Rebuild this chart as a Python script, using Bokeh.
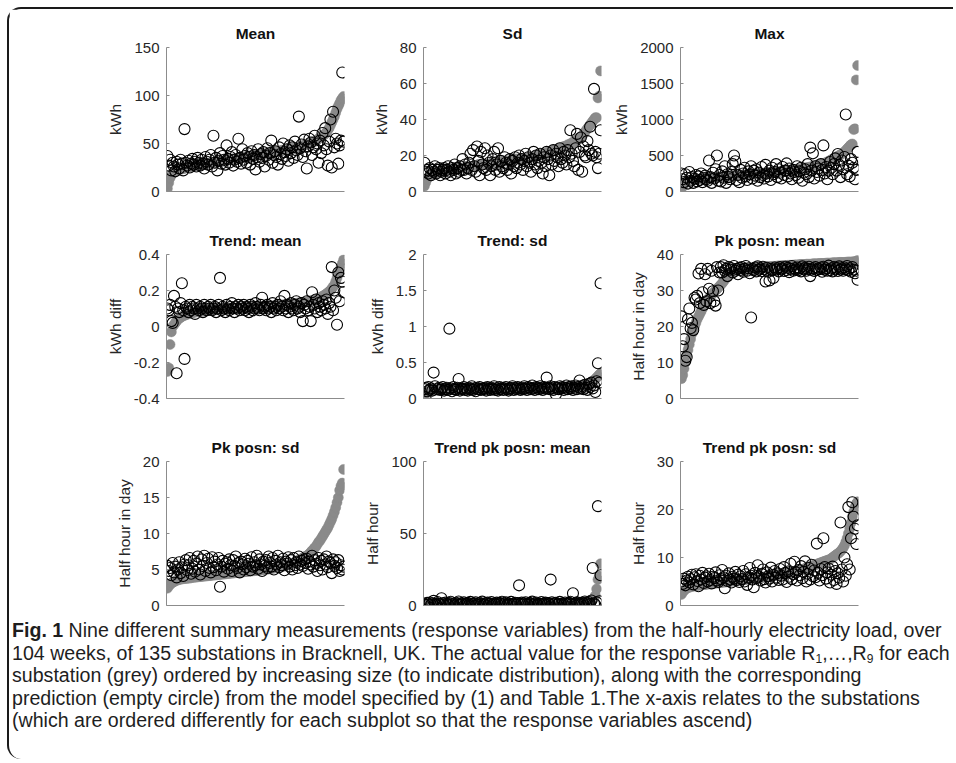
from bokeh.plotting import figure
from bokeh.layouts import row, column
from bokeh.models import Range1d, FixedTicker, CustomJSTickFormatter, Div
from bokeh.embed import file_html
from bokeh.resources import INLINE

# ---------------- data ----------------
titles = ["Mean", "Sd", "Max", "Trend: mean", "Trend: sd", "Pk posn: mean",
          "Pk posn: sd", "Trend pk posn: mean", "Trend pk posn: sd"]
ylabels = ["kWh", "kWh", "kWh", "kWh diff", "kWh diff", "Half hour in day",
           "Half hour in day", "Half hour", "Half hour"]
yticks = [[0, 50, 100, 150], [0, 20, 40, 60, 80], [0, 500, 1000, 1500, 2000],
          [-0.4, -0.2, 0, 0.2, 0.4], [0, 0.5, 1, 1.5, 2], [0, 10, 20, 30, 40],
          [0, 5, 10, 15, 20], [0, 50, 100], [0, 10, 20, 30]]

mean_actual = [3, 9, 14, 17, 19, 20, 21, 22, 22, 23, 23, 24, 24, 24, 25,
               25, 25, 26, 26, 26, 27, 27, 27, 27, 28, 28, 28, 28, 29, 29,
               29, 29, 30, 30, 30, 30, 30, 31, 31, 31, 31, 31, 32, 32, 32,
               32, 33, 33, 33, 33, 34, 34, 34, 34, 35, 35, 35, 35, 36, 36,
               36, 36, 37, 37, 37, 37, 38, 38, 38, 38, 38, 39, 39, 39, 39,
               39, 40, 40, 40, 41, 41, 41, 41, 42, 42, 42, 42, 43, 43, 43,
               43, 44, 44, 44, 44, 45, 45, 45, 46, 46, 46, 47, 47, 48, 48,
               49, 49, 50, 50, 51, 51, 52, 52, 53, 54, 55, 56, 57, 58, 59,
               60, 62, 64, 66, 69, 72, 75, 78, 82, 86, 89, 92, 95, 97, 99]
mean_pred = [37, 27, 33, 22, 30, 26, 21, 31, 28, 24, 33, 29, 22, 65, 30,
             27, 32, 25, 29, 34, 28, 31, 26, 35, 30, 27, 33, 29, 24, 36,
             31, 28, 33, 38, 26, 58, 30, 35, 22, 32, 40, 29, 37, 33, 28,
             48, 34, 30, 36, 41, 27, 33, 38, 31, 55, 35, 29, 44, 33, 37,
             30, 40, 36, 28, 42, 34, 38, 23, 36, 44, 31, 39, 35, 41, 26,
             37, 45, 33, 40, 53, 30, 38, 42, 36, 28, 46, 39, 34, 50, 41,
             37, 44, 32, 48, 40, 46, 35, 52, 43, 38, 78, 45, 49, 36, 54,
             42, 24, 47, 55, 51, 38, 46, 58, 44, 50, 30, 53, 40, 61, 48,
             66, 44, 27, 52, 75, 25, 83, 46, 55, 50, 29, 48, 53, 124, 52]

sd_actual = [3, 5, 7, 8, 9, 9, 10, 10, 10, 10, 11, 11, 11, 11, 11,
             11, 12, 12, 12, 12, 12, 12, 12, 13, 13, 13, 13, 13, 13, 13,
             13, 13, 14, 14, 14, 14, 14, 14, 14, 14, 14, 15, 15, 15, 15,
             15, 15, 15, 15, 15, 15, 16, 16, 16, 16, 16, 16, 16, 16, 17,
             17, 17, 17, 17, 17, 17, 17, 18, 18, 18, 18, 18, 18, 18, 18,
             18, 18, 18, 18, 19, 19, 19, 19, 19, 20, 20, 20, 20, 20, 21,
             21, 21, 21, 21, 22, 22, 22, 22, 23, 23, 23, 23, 24, 24, 24,
             24, 25, 25, 25, 26, 26, 26, 27, 27, 28, 28, 29, 29, 30, 30,
             31, 32, 33, 34, 35, 36, 37, 38, 39, 40, 41, 41, 52, 53, 67]
sd_pred = [16, 11, 12, 10, 13, 9, 12, 11, 14, 10, 12, 13, 9, 11, 12,
           13, 10, 12, 14, 11, 9, 13, 12, 15, 10, 13, 11, 14, 12, 18,
           12, 15, 10, 13, 16, 21, 12, 23, 14, 11, 25, 17, 9, 22, 15,
           13, 24, 12, 20, 16, 9, 14, 18, 22, 12, 15, 24, 11, 17, 14,
           13, 19, 16, 12, 15, 18, 10, 17, 14, 19, 13, 16, 20, 15, 18,
           12, 17, 21, 14, 19, 16, 11, 18, 22, 15, 20, 13, 17, 21, 16,
           10, 19, 14, 22, 18, 9, 20, 15, 23, 17, 21, 19, 14, 24, 18,
           16, 22, 20, 15, 23, 19, 34, 21, 17, 14, 24, 32, 12, 22, 30,
           11, 25, 20, 19, 28, 23, 36, 21, 20, 57, 22, 19, 13, 21, 34]

max_actual = [40, 70, 100, 120, 130, 140, 145, 150, 155, 160, 160, 165, 165, 170, 170,
              175, 175, 180, 180, 180, 185, 185, 190, 190, 190, 195, 195, 195, 200, 200,
              200, 205, 205, 205, 210, 210, 210, 215, 215, 215, 220, 220, 220, 220, 225,
              225, 225, 230, 230, 230, 235, 235, 235, 240, 240, 240, 245, 245, 245, 250,
              250, 250, 255, 255, 255, 260, 260, 260, 265, 265, 265, 270, 270, 270, 275,
              275, 280, 280, 285, 285, 290, 290, 295, 295, 300, 300, 305, 305, 310, 310,
              315, 315, 320, 320, 325, 330, 330, 335, 340, 345, 350, 355, 360, 365, 370,
              375, 380, 385, 390, 395, 400, 410, 420, 430, 440, 450, 460, 470, 480, 490,
              500, 510, 520, 535, 550, 570, 590, 610, 630, 650, 660, 860, 870, 1550, 1750]
max_pred = [250, 170, 130, 240, 190, 110, 270, 150, 200, 120, 180, 230, 140, 210, 160,
            250, 130, 190, 220, 170, 150, 430, 200, 120, 260, 180, 310, 500, 150, 230,
            140, 280, 190, 350, 120, 240, 200, 170, 270, 380, 500, 420, 160, 230, 130,
            300, 190, 250, 330, 210, 160, 280, 240, 350, 180, 290, 220, 310, 150, 260,
            200, 340, 230, 180, 370, 250, 210, 290, 160, 330, 240, 270, 380, 200, 310,
            260, 180, 340, 230, 290, 390, 210, 320, 250, 170, 300, 270, 230, 350, 190,
            280, 330, 150, 260, 310, 240, 380, 200, 610, 290, 530, 180, 350, 270, 320,
            220, 380, 300, 640, 250, 340, 170, 290, 410, 330, 240, 380, 460, 290, 520,
            370, 200, 430, 310, 480, 1070, 240, 360, 210, 450, 400, 330, 170, 300, 550]

trend_mean_actual = [-0.25, -0.23, -0.10, -0.03, 0.00, 0.01, 0.02, 0.03, 0.04, 0.045, 0.05, 0.055, 0.06, 0.062, 0.065,
                     0.068, 0.07, 0.072, 0.074, 0.076, 0.078, 0.08, 0.081, 0.082, 0.083, 0.084, 0.085, 0.086, 0.087, 0.088,
                     0.089, 0.09, 0.09, 0.091, 0.092, 0.092, 0.093, 0.093, 0.094, 0.094, 0.095, 0.095, 0.096, 0.096, 0.097,
                     0.097, 0.098, 0.098, 0.099, 0.099, 0.1, 0.1, 0.1, 0.101, 0.101, 0.102, 0.102, 0.103, 0.103, 0.104,
                     0.104, 0.105, 0.105, 0.106, 0.106, 0.107, 0.107, 0.108, 0.108, 0.109, 0.109, 0.11, 0.11, 0.111, 0.111,
                     0.112, 0.112, 0.113, 0.113, 0.114, 0.114, 0.115, 0.115, 0.116, 0.117, 0.117, 0.118, 0.119, 0.12, 0.12,
                     0.121, 0.122, 0.123, 0.124, 0.125, 0.126, 0.127, 0.128, 0.129, 0.13, 0.131, 0.132, 0.133, 0.134, 0.135,
                     0.136, 0.137, 0.138, 0.14, 0.142, 0.144, 0.146, 0.148, 0.15, 0.153, 0.156, 0.16, 0.164, 0.168, 0.172,
                     0.177, 0.182, 0.188, 0.194, 0.2, 0.21, 0.22, 0.23, 0.25, 0.27, 0.29, 0.31, 0.33, 0.35, 0.37]
trend_mean_pred = [0.10, 0.09, 0.12, 0.03, 0.02, 0.17, 0.11, -0.26, 0.10, 0.08, 0.13, 0.24, 0.09, -0.18, 0.11,
                   0.10, 0.08, 0.12, 0.09, 0.11, 0.10, 0.07, 0.12, 0.10, 0.09, 0.11, 0.10, 0.08, 0.12, 0.10,
                   0.09, 0.11, 0.10, 0.12, 0.09, 0.10, 0.11, 0.08, 0.10, 0.12, 0.27, 0.09, 0.11, 0.10, 0.08,
                   0.12, 0.10, 0.09, 0.11, 0.13, 0.10, 0.08, 0.11, 0.10, 0.12, 0.09, 0.11, 0.10, 0.12, 0.09,
                   0.11, 0.10, 0.08, 0.12, 0.11, 0.09, 0.10, 0.13, 0.11, 0.10, 0.09, 0.12, 0.16, 0.10, 0.11,
                   0.09, 0.12, 0.10, 0.11, 0.08, 0.13, 0.10, 0.11, 0.09, 0.12, 0.10, 0.14, 0.11, 0.09, 0.17,
                   0.10, 0.12, 0.08, 0.11, 0.13, 0.10, 0.09, 0.12, 0.14, 0.10, 0.11, 0.08, 0.13, 0.03, 0.12,
                   0.10, 0.14, 0.09, 0.11, 0.03, 0.19, 0.12, 0.10, 0.15, 0.08, 0.13, 0.11, 0.09, 0.14, 0.12,
                   0.10, 0.15, 0.07, 0.13, 0.11, 0.33, 0.09, 0.20, 0.16, 0.01, 0.30, 0.14, 0.27, 0.25, 0.19]

trend_sd_actual = [0.05, 0.07, 0.08, 0.09, 0.10, 0.10, 0.11, 0.11, 0.11, 0.12, 0.12, 0.12, 0.12, 0.12, 0.12,
                   0.12, 0.12, 0.12, 0.12, 0.13, 0.13, 0.13, 0.13, 0.13, 0.13, 0.13, 0.13, 0.13, 0.13, 0.13,
                   0.13, 0.13, 0.13, 0.13, 0.13, 0.13, 0.13, 0.13, 0.13, 0.13, 0.13, 0.13, 0.13, 0.13, 0.14,
                   0.14, 0.14, 0.14, 0.14, 0.14, 0.14, 0.14, 0.14, 0.14, 0.14, 0.14, 0.14, 0.14, 0.14, 0.14,
                   0.14, 0.14, 0.14, 0.14, 0.14, 0.14, 0.14, 0.14, 0.14, 0.14, 0.14, 0.14, 0.14, 0.14, 0.14,
                   0.14, 0.14, 0.14, 0.14, 0.14, 0.15, 0.15, 0.15, 0.15, 0.15, 0.15, 0.15, 0.15, 0.15, 0.15,
                   0.15, 0.15, 0.15, 0.15, 0.15, 0.15, 0.15, 0.15, 0.15, 0.15, 0.15, 0.15, 0.15, 0.15, 0.15,
                   0.15, 0.15, 0.15, 0.15, 0.16, 0.16, 0.16, 0.16, 0.16, 0.17, 0.17, 0.17, 0.17, 0.18, 0.18,
                   0.18, 0.19, 0.19, 0.20, 0.20, 0.21, 0.22, 0.23, 0.24, 0.25, 0.27, 0.29, 0.31, 0.33, 0.35]
trend_sd_pred = [0.13, 0.15, 0.10, 0.16, 0.12, 0.14, 0.11, 0.36, 0.17, 0.03, 0.13, 0.15, 0.12, 0.14, 0.16,
                 0.11, 0.13, 0.15, 0.12, 0.97, 0.14, 0.10, 0.16, 0.13, 0.12, 0.15, 0.27, 0.11, 0.14, 0.13,
                 0.16, 0.12, 0.14, 0.11, 0.15, 0.13, 0.17, 0.12, 0.14, 0.10, 0.15, 0.13, 0.16, 0.12, 0.14,
                 0.13, 0.15, 0.11, 0.16, 0.14, 0.12, 0.15, 0.13, 0.17, 0.12, 0.14, 0.11, 0.16, 0.13, 0.15,
                 0.12, 0.14, 0.16, 0.13, 0.11, 0.15, 0.14, 0.17, 0.12, 0.15, 0.13, 0.16, 0.14, 0.12, 0.15,
                 0.13, 0.17, 0.14, 0.12, 0.16, 0.15, 0.13, 0.18, 0.14, 0.12, 0.16, 0.15, 0.13, 0.17, 0.14,
                 0.12, 0.16, 0.14, 0.29, 0.15, 0.13, 0.17, 0.14, 0.12, 0.16, 0.06, 0.15, 0.13, 0.17, 0.14,
                 0.16, 0.12, 0.15, 0.18, 0.13, 0.16, 0.14, 0.17, 0.12, 0.15, 0.18, 0.13, 0.16, 0.25, 0.14,
                 0.17, 0.13, 0.19, 0.15, 0.12, 0.20, 0.16, 0.22, 0.14, 0.18, 0.09, 0.24, 0.49, 0.22, 1.60]

pk_mean_actual = [5.5, 6.5, 8.3, 10, 12, 13.5, 15, 16.5, 18, 19, 20, 21, 22, 22.8, 23.5,
                  24.2, 25, 25.6, 26.2, 26.8, 27.3, 27.8, 28.3, 28.8, 29.2, 29.6, 30, 30.4, 30.8, 31.2,
                  31.6, 32, 32.5, 33, 33.5, 34, 34.5, 35, 35.3, 35.5, 35.6, 35.7, 35.8, 35.8, 35.9,
                  35.9, 36, 36, 36, 36.1, 36.1, 36.1, 36.2, 36.2, 36.2, 36.3, 36.3, 36.3, 36.4, 36.4,
                  36.4, 36.5, 36.5, 36.5, 36.5, 36.6, 36.6, 36.6, 36.6, 36.7, 36.7, 36.7, 36.7, 36.8, 36.8,
                  36.8, 36.8, 36.9, 36.9, 36.9, 36.9, 37, 37, 37, 37, 37, 37.1, 37.1, 37.1, 37.1,
                  37.2, 37.2, 37.2, 37.2, 37.2, 37.3, 37.3, 37.3, 37.3, 37.3, 37.4, 37.4, 37.4, 37.4, 37.4,
                  37.5, 37.5, 37.5, 37.5, 37.5, 37.6, 37.6, 37.6, 37.6, 37.6, 37.7, 37.7, 37.7, 37.7, 37.7,
                  37.8, 37.8, 37.8, 37.8, 37.8, 37.8, 37.9, 37.9, 37.9, 37.9, 37.9, 38, 38, 38.1, 38.3]
pk_mean_pred = [22.8, 14.5, 16.5, 10.5, 11.5, 22, 25, 19.5, 21, 19, 28, 27.5, 28.5, 34.7, 26.5,
                36, 29.5, 26, 34.5, 27, 36, 30.5, 26.5, 35.5, 29.8, 27, 25.8, 36.5, 30, 35,
                36.5, 35, 37, 35.5, 36, 34, 36.5, 35.8, 36.2, 35, 36.8, 35.5, 36, 34.5, 36.3,
                35.7, 36.5, 35.2, 36, 36.8, 35.5, 36.2, 34.8, 22.5, 36, 35.6, 36.4, 35.3, 36.7, 35.8,
                36.1, 35.4, 36.6, 35.9, 32.5, 36.3, 35.2, 32.8, 36, 35.6, 33.5, 36.4, 35.8, 36.2, 35.3,
                36.5, 35.9, 36.1, 35.4, 36.6, 35.7, 36.3, 35.1, 36, 36.8, 35.5, 36.2, 35.8, 36.4, 35.6,
                36.1, 35.3, 36.7, 35.9, 36.3, 35.5, 36, 36.6, 34, 35.8, 36.2, 35.4, 36.5, 35.7, 36.1,
                35.9, 36.4, 35.2, 36.6, 35.8, 36.2, 35.5, 36.9, 35.6, 36.1, 35.3, 36.5, 35.9, 36.3, 35.4,
                36.7, 35.8, 36.2, 35.5, 36.4, 35.9, 36.8, 35.6, 36.1, 35.2, 36.5, 35.8, 34.8, 35.5, 33]

pk_sd_actual = [2.4, 2.7, 2.9, 3.1, 3.2, 3.3, 3.4, 3.5, 3.55, 3.6, 3.65, 3.7, 3.72, 3.74, 3.76,
                3.78, 3.8, 3.82, 3.85, 3.9, 3.92, 3.94, 3.96, 3.98, 4, 4.02, 4.04, 4.06, 4.08, 4.1,
                4.12, 4.14, 4.16, 4.18, 4.2, 4.22, 4.24, 4.26, 4.28, 4.3, 4.32, 4.34, 4.36, 4.38, 4.4,
                4.42, 4.44, 4.46, 4.48, 4.5, 4.52, 4.54, 4.56, 4.58, 4.6, 4.62, 4.64, 4.66, 4.68, 4.7,
                4.72, 4.74, 4.76, 4.78, 4.8, 4.82, 4.84, 4.86, 4.88, 4.9, 4.92, 4.94, 4.96, 4.98, 5,
                5.02, 5.05, 5.08, 5.1, 5.13, 5.16, 5.2, 5.23, 5.26, 5.3, 5.34, 5.38, 5.42, 5.46, 5.5,
                5.55, 5.6, 5.65, 5.7, 5.75, 5.8, 5.9, 6, 6.1, 6.2, 6.3, 6.4, 6.5, 6.6, 6.7,
                6.8, 6.9, 7, 7.2, 7.4, 7.6, 7.8, 8, 8.2, 8.5, 8.8, 9, 9.3, 9.6, 9.9,
                10.2, 10.5, 10.8, 11.2, 11.6, 12, 12.5, 13, 13.6, 14.3, 15, 16, 16.6, 17, 18.9]
pk_sd_pred = [5.5, 4.8, 5.2, 4.2, 5.9, 4.6, 5.4, 3.9, 5.0, 6.0, 4.5, 5.3, 4.1, 5.7, 6.3,
              4.9, 5.6, 6.6, 4.4, 5.1, 6.2, 4.7, 5.8, 6.8, 5.0, 4.3, 6.4, 5.5, 6.9, 4.8,
              5.9, 6.5, 5.2, 4.6, 6.7, 5.3, 6.1, 4.9, 5.7, 6.6, 2.6, 5.4, 6.2, 4.7, 5.8,
              6.0, 5.1, 6.4, 5.6, 4.8, 6.3, 5.5, 6.8, 5.2, 5.9, 4.6, 6.1, 5.7, 5.0, 6.5,
              5.3, 6.2, 5.8, 4.9, 6.7, 5.4, 6.0, 5.6, 6.9, 5.1, 6.4, 5.7, 4.8, 6.1, 5.5,
              6.3, 5.2, 6.8, 5.9, 5.4, 6.6, 5.0, 6.2, 5.7, 6.9, 5.3, 6.0, 5.6, 6.5, 4.9,
              6.1, 5.8, 6.7, 5.4, 6.3, 5.0, 6.6, 5.6, 6.0, 5.2, 6.8, 5.7, 6.2, 5.5, 6.4,
              5.9, 6.5, 5.1, 6.1, 5.7, 6.9, 5.4, 6.3, 5.8, 4.8, 6.6, 5.6, 6.2, 5.0, 6.4,
              5.7, 6.8, 5.3, 6.1, 5.9, 4.5, 6.4, 5.5, 6.0, 5.2, 6.3, 4.8, 5.6, 5.0, 5.4]

tpk_mean_actual = [0.1, 0.2, 0.3, 0.3, 0.4, 0.4, 0.5, 0.5, 0.5, 0.6, 0.6, 0.6, 0.6, 0.7, 0.7,
                   0.7, 0.7, 0.7, 0.8, 0.8, 0.8, 0.8, 0.8, 0.8, 0.9, 0.9, 0.9, 0.9, 0.9, 0.9,
                   0.9, 1.0, 1.0, 1.0, 1.0, 1.0, 1.0, 1.0, 1.0, 1.0, 1.1, 1.1, 1.1, 1.1, 1.1,
                   1.1, 1.1, 1.1, 1.1, 1.1, 1.2, 1.2, 1.2, 1.2, 1.2, 1.2, 1.2, 1.2, 1.2, 1.2,
                   1.3, 1.3, 1.3, 1.3, 1.3, 1.3, 1.3, 1.3, 1.3, 1.3, 1.3, 1.3, 1.3, 1.3, 1.3,
                   1.3, 1.3, 1.3, 1.3, 1.3, 1.4, 1.4, 1.4, 1.4, 1.4, 1.4, 1.4, 1.4, 1.4, 1.4,
                   1.4, 1.4, 1.4, 1.4, 1.4, 1.5, 1.5, 1.5, 1.5, 1.5, 1.5, 1.5, 1.5, 1.5, 1.5,
                   1.5, 1.5, 1.6, 1.6, 1.6, 1.6, 1.7, 1.7, 1.7, 1.8, 1.8, 1.9, 1.9, 2.0, 2.1,
                   2.2, 2.3, 2.4, 2.6, 2.8, 3.0, 3.3, 3.7, 4.2, 5.0, 7.0, 11.5, 18.0, 20.5, 29.0]
tpk_mean_pred = [1.2, 0.4, 1.8, 0.9, 2.1, 0.6, 1.5, 3.2, 1.0, 0.3, 2.4, 1.3, 0.7, 5.0, 1.6,
                 0.8, 2.0, 1.1, 0.5, 1.7, 2.6, 0.9, 1.4, 0.2, 1.9, 1.2, 2.8, 0.6, 1.5, 1.0,
                 2.2, 0.7, 1.3, 1.8, 0.4, 2.5, 1.1, 0.8, 1.6, 2.3, 0.5, 1.4, 1.9, 0.9, 2.7,
                 1.2, 0.6, 1.7, 2.1, 0.8, 1.3, 2.4, 0.5, 1.5, 1.0, 2.0, 0.7, 1.8, 1.1, 2.6,
                 0.9, 1.4, 2.2, 0.6, 1.6, 1.0, 2.5, 0.8, 1.3, 1.9, 0.4, 1.7, 14.0, 1.1, 2.0,
                 0.7, 1.5, 2.3, 1.0, 0.5, 1.8, 1.2, 2.7, 0.8, 1.4, 2.1, 0.6, 1.6, 1.1, 2.4,
                 0.9, 1.3, 2.0, 0.5, 1.7, 1.0, 18.0, 2.2, 0.8, 1.4, 1.9, 0.6, 1.2, 2.5, 1.0,
                 1.6, 0.7, 2.1, 1.3, 0.9, 1.8, 2.6, 1.1, 8.5, 0.6, 1.5, 2.3, 1.0, 1.7, 0.8,
                 2.0, 1.2, 2.8, 0.7, 1.6, 2.4, 1.1, 3.5, 26.0, 1.4, 0.5, 2.2, 69.0, 3.0, 21.0]

tpk_sd_actual = [2.3, 2.8, 3.1, 3.4, 3.6, 3.7, 3.8, 3.9, 4.0, 4.0, 4.1, 4.1, 4.2, 4.2, 4.3,
                 4.3, 4.3, 4.4, 4.4, 4.4, 4.5, 4.5, 4.5, 4.6, 4.6, 4.6, 4.7, 4.7, 4.7, 4.8,
                 4.8, 4.8, 4.9, 4.9, 4.9, 5.0, 5.0, 5.0, 5.1, 5.1, 5.1, 5.2, 5.2, 5.2, 5.3,
                 5.3, 5.3, 5.4, 5.4, 5.4, 5.5, 5.5, 5.5, 5.6, 5.6, 5.6, 5.7, 5.7, 5.7, 5.8,
                 5.8, 5.8, 5.9, 5.9, 6.0, 6.0, 6.0, 6.1, 6.1, 6.2, 6.2, 6.3, 6.3, 6.4, 6.4,
                 6.5, 6.5, 6.6, 6.6, 6.7, 6.7, 6.8, 6.8, 6.9, 7.0, 7.0, 7.1, 7.2, 7.2, 7.3,
                 7.4, 7.4, 7.5, 7.6, 7.7, 7.8, 7.9, 8.0, 8.1, 8.2, 8.3, 8.4, 8.5, 8.6, 8.7,
                 8.8, 8.9, 9.0, 9.1, 9.2, 9.3, 9.4, 9.5, 9.6, 9.8, 10.0, 10.2, 10.4, 10.6, 10.8,
                 11.0, 11.3, 11.6, 12.0, 12.5, 13.2, 14.0, 15.0, 16.0, 17.2, 18.5, 19.5, 20.5, 21.2, 21.6]
tpk_sd_pred = [5.0, 4.5, 5.6, 4.2, 5.2, 6.0, 4.8, 5.5, 6.4, 4.4, 5.9, 6.5, 5.1, 4.0, 6.2,
               5.4, 6.8, 4.7, 5.8, 6.1, 5.0, 6.6, 5.3, 4.6, 6.0, 5.7, 6.9, 5.2, 4.9, 6.3,
               5.5, 7.4, 5.9, 3.6, 6.2, 5.1, 6.7, 5.4, 4.8, 6.0, 5.6, 7.0, 5.3, 6.4, 4.9,
               6.1, 5.5, 7.2, 5.0, 6.5, 4.3, 5.8, 7.8, 6.2, 5.4, 3.8, 6.8, 5.7, 8.4, 6.0,
               5.2, 6.6, 7.5, 5.5, 4.8, 6.9, 6.1, 5.6, 7.9, 5.0, 6.4, 7.2, 5.8, 6.7, 5.3,
               7.6, 6.2, 5.4, 8.0, 6.8, 4.9, 7.1, 6.0, 8.7, 5.5, 6.5, 9.1, 6.9, 5.2, 7.4,
               6.3, 8.2, 5.7, 7.0, 9.2, 5.0, 6.6, 7.8, 5.4, 8.5, 6.1, 7.3, 5.9, 12.9, 6.8,
               5.2, 7.6, 6.3, 14.0, 8.0, 5.6, 6.9, 7.7, 4.8, 6.4, 8.1, 5.3, 7.2, 4.5, 6.7,
               5.8, 17.3, 7.5, 5.0, 10.0, 6.2, 8.6, 20.5, 7.5, 14.0, 21.5, 18.5, 16.0, 12.8, 16.7]

actuals = [mean_actual, sd_actual, max_actual, trend_mean_actual, trend_sd_actual,
           pk_mean_actual, pk_sd_actual, tpk_mean_actual, tpk_sd_actual]
preds = [mean_pred, sd_pred, max_pred, trend_mean_pred, trend_sd_pred,
         pk_mean_pred, pk_sd_pred, tpk_mean_pred, tpk_sd_pred]

# ---------------- styling ----------------
FONT = "Liberation Sans"
GREY = "#8a8a8a"
AXIS = "#8c8c8c"
TXT = "#262626"
FRAME_W, FRAME_H = 178, 144


def make_panel(k, left, top, bottom):
    ticks = yticks[k]
    p = figure(frame_width=FRAME_W, frame_height=FRAME_H,
               output_backend="svg", toolbar_location=None,
               x_range=Range1d(0.3, 135.7),
               y_range=Range1d(ticks[0], ticks[-1]),
               min_border_left=left, min_border_right=7,
               min_border_top=top, min_border_bottom=bottom,
               background_fill_color="white", border_fill_color="white")
    p.outline_line_color = None
    p.grid.visible = False
    a = actuals[k]
    b = preds[k]
    p.scatter(list(range(1, len(a) + 1)), a, size=10, fill_color=GREY,
              line_color=GREY, line_width=0.5)
    p.scatter(list(range(1, len(b) + 1)), b, size=11, fill_color=None,
              line_color="black", line_width=1.1)
    # y axis
    ya = p.yaxis[0]
    ya.ticker = FixedTicker(ticks=ticks)
    ya.formatter = CustomJSTickFormatter(
        code="return String(Math.round(tick*1000)/1000);")
    ya.axis_label = ylabels[k]
    ya.axis_line_color = AXIS
    ya.major_tick_line_color = AXIS
    ya.major_tick_in = 3
    ya.major_tick_out = 0
    ya.minor_tick_line_color = None
    ya.major_label_standoff = 7
    ya.axis_label_standoff = 7
    ya.major_label_text_font = FONT
    ya.major_label_text_font_size = "15px"
    ya.major_label_text_color = TXT
    ya.axis_label_text_font = FONT
    ya.axis_label_text_font_size = "15.5px"
    ya.axis_label_text_font_style = "normal"
    ya.axis_label_text_color = TXT
    # x axis: plain line
    xa = p.xaxis[0]
    xa.ticker = FixedTicker(ticks=[])
    xa.axis_line_color = AXIS
    xa.major_tick_line_color = None
    xa.minor_tick_line_color = None
    xa.major_label_text_font_size = "0px"
    # title
    p.title.text = titles[k]
    p.title.align = "center"
    p.title.text_font = FONT
    p.title.text_font_size = "15.5px"
    p.title.text_font_style = "bold"
    p.title.text_color = "#111111"
    p.title.standoff = 12
    return p


tops = [38, 40, 40]
bottoms = [23, 23, 13]
rows = []
for r in range(3):
    figs = []
    for c in range(3):
        k = r * 3 + c
        left = 157 if c == 0 else 72
        figs.append(make_panel(k, left, tops[r], bottoms[r]))
    rows.append(row(*figs, spacing=0))

SUB = '<sub style="font-size:12px; line-height:0; vertical-align:-3px;">'
caption_html = (
    '<div style="font-family: \'Liberation Sans\', Arial, sans-serif; font-size: 19.6px; '
    'line-height: 22.6px; color: #1e1e1e; white-space: nowrap; padding-left: 3px; padding-top: 1px;">'
    '<b>Fig. 1</b> Nine different summary measurements (response variables) from the half-hourly electricity load, over<br>'
    '104 weeks, of 135 substations in Bracknell, UK. The actual value for the response variable '
    'R' + SUB + '1</sub>,&hellip;,R' + SUB + '9</sub> for each<br>'
    'substation (grey) ordered by increasing size (to indicate distribution), along with the corresponding<br>'
    'prediction (empty circle) from the model specified by (1) and Table 1.The x-axis relates to the substations<br>'
    '(which are ordered differently for each subplot so that the response variables ascend)'
    '</div>'
)
caption = Div(text=caption_html, width=944, height=141, margin=(0, 0, 0, 0))

layout = column(*rows, caption, spacing=0, width=946, margin=(7, 0, 0, 7),
                styles={"border-top": "2px solid #1a1a1a",
                        "border-left": "2px solid #1a1a1a",
                        "border-top-left-radius": "14px",
                        "border-bottom-left-radius": "14px"})

html = file_html(layout, INLINE, title="Fig. 1")
open("out.html", "w").write(html)
